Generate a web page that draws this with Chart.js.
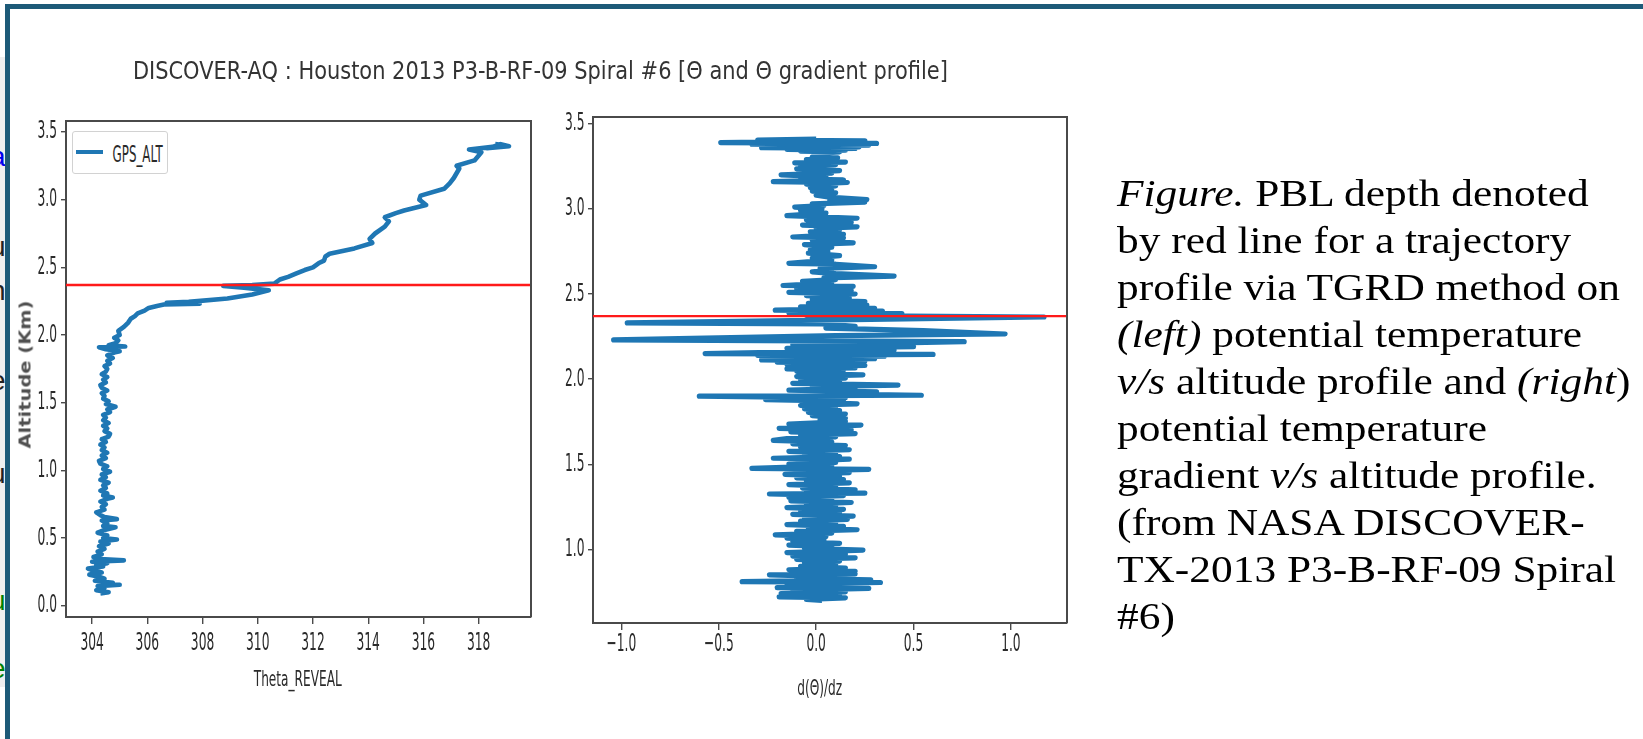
<!DOCTYPE html>
<html>
<head>
<meta charset="utf-8">
<script src="https://cdn.jsdelivr.net/npm/chart.js@4.4.1/dist/chart.umd.min.js"></script>
<style>
html,body{margin:0;padding:0;background:#fff;}
body{width:1643px;height:739px;position:relative;overflow:hidden;}
canvas{position:absolute;left:0;top:0;}
.t{position:absolute;white-space:nowrap;}
#caption{position:absolute;left:1117px;top:170px;font-family:"Liberation Serif","Times New Roman",serif;font-size:38px;line-height:47px;color:#000;white-space:nowrap;transform-origin:0 0;}
#legend{position:absolute;left:72px;top:131px;width:96px;height:43px;border:1px solid #d2d2d2;border-radius:3px;background:#fff;box-sizing:border-box;}
#legline{position:absolute;left:76px;top:150px;width:27px;height:4px;background:#1f77b4;}
.frag{position:absolute;font-family:"Liberation Sans",sans-serif;font-size:28px;line-height:1;}
</style>
</head>
<body>
<div style="position:absolute;left:0;top:57px;width:5px;height:630px;background:#efefef;overflow:hidden;" id="strip"></div>
<div style="position:absolute;left:5px;top:4px;width:1638px;height:5px;background:#1d5a78;"></div>
<div style="position:absolute;left:5px;top:4px;width:5px;height:735px;background:#1d5a78;"></div>

<canvas id="leftChart" width="1643" height="739"></canvas>
<canvas id="rightChart" width="1643" height="739"></canvas>

<div id="legend"></div>
<div id="legline"></div>

<div id="caption">
<div><i>Figure.</i> PBL depth denoted</div>
<div>by red line for a trajectory</div>
<div id="capref">profile via TGRD method on</div>
<div><i>(left)</i> potential temperature</div>
<div><i>v/s</i> altitude profile and <i>(right</i>)</div>
<div>potential temperature</div>
<div>gradient <i>v/s</i> altitude profile.</div>
<div>(from NASA DISCOVER-</div>
<div>TX-2013 P3-B-RF-09 Spiral</div>
<div>#6)</div>
</div>

<script>
// ---------------- DATA ----------------
const chartTitle = 'DISCOVER-AQ : Houston 2013 P3-B-RF-09 Spiral #6 [\u0398 and \u0398 gradient profile]';
const seriesName = 'GPS_ALT';
const leftXTitle = 'Theta_REVEAL';
const leftYTitle = 'Altitude (Km)';
const rightXTitle = 'd(\u0398)/dz';

const pblDepth = 2.37; // km, red line

// Left panel: potential temperature (K) vs altitude (km), [theta, altitude]
const thetaProfile = [
 [304.30,0.09],[304.60,0.10],[304.15,0.115],[304.45,0.13],[304.20,0.145],[305.00,0.155],[304.40,0.16],[304.75,0.17],[304.10,0.185],[304.45,0.20],
 [304.25,0.215],[303.90,0.23],[304.35,0.245],[304.05,0.26],[303.85,0.275],[304.40,0.29],[304.15,0.30],[304.55,0.315],[304.00,0.325],[305.15,0.335],
 [304.30,0.345],[304.05,0.36],[304.35,0.38],[304.20,0.40],[304.45,0.42],[304.25,0.44],[304.60,0.46],[304.30,0.475],[304.90,0.49],[304.40,0.50],
 [304.55,0.52],[304.20,0.54],[304.45,0.56],[304.85,0.58],[304.40,0.59],[304.55,0.61],[304.35,0.63],[304.90,0.64],[304.45,0.655],[304.30,0.67],
 [304.15,0.69],[304.45,0.71],[304.35,0.73],[304.50,0.75],[304.30,0.77],[304.55,0.79],[304.75,0.80],[304.40,0.815],[304.55,0.83],[304.30,0.85],
 [304.50,0.87],[304.40,0.89],[304.60,0.91],[304.30,0.93],[304.50,0.95],[304.35,0.97],[304.65,0.99],[304.40,1.01],[304.55,1.03],[304.30,1.05],
 [304.25,1.07],[304.50,1.09],[304.35,1.11],[304.55,1.13],[304.35,1.15],[304.45,1.17],[304.30,1.19],[304.50,1.21],[304.35,1.23],[304.60,1.25],
 [304.65,1.27],[304.45,1.29],[304.55,1.31],[304.40,1.33],[304.60,1.35],[304.40,1.37],[304.50,1.39],[304.40,1.41],[304.65,1.43],[304.55,1.45],
 [304.85,1.47],[304.50,1.49],[304.60,1.51],[304.40,1.53],[304.45,1.55],[304.35,1.57],[304.55,1.59],[304.35,1.61],[304.30,1.63],[304.50,1.65],
 [304.40,1.67],[304.55,1.69],[304.35,1.71],[304.50,1.73],[304.55,1.75],[304.45,1.77],[304.65,1.79],[304.55,1.81],[304.75,1.83],[304.55,1.85],
 [304.80,1.87],[305.00,1.88],[304.50,1.895],[304.25,1.91],[305.20,1.915],[304.60,1.925],[304.85,1.94],[304.95,1.96],[304.80,1.98],[305.00,2.00],
 [304.95,2.03],[305.15,2.06],[305.30,2.09],[305.40,2.12],[305.55,2.14],[305.65,2.16],[305.90,2.18],[306.05,2.20],[306.35,2.215],[306.60,2.225],
 [307.90,2.232],[306.70,2.238],[307.50,2.245],[308.90,2.27],[309.80,2.30],[310.40,2.33],[309.50,2.35],[308.75,2.363],[309.80,2.37],[310.60,2.38],
 [310.80,2.41],[311.10,2.43],[311.40,2.455],[311.70,2.48],[312.00,2.50],[312.20,2.53],[312.40,2.55],[312.45,2.58],[312.60,2.60],[313.50,2.64],
 [314.15,2.68],[314.05,2.71],[314.25,2.75],[314.60,2.80],[314.75,2.84],[314.60,2.87],[315.00,2.90],[315.30,2.92],[316.10,2.96],[315.85,3.00],
 [315.90,3.03],[316.75,3.08],[316.95,3.12],[317.10,3.16],[317.30,3.23],[317.20,3.25],[317.85,3.29],[318.10,3.35],[317.65,3.37],[318.50,3.39],
 [318.80,3.41],[319.10,3.395],[318.30,3.38],[319.00,3.40],[318.60,3.41]
];

// Right panel: d(theta)/dz vs altitude (km), [gradient, altitude]
const gradientProfile = [
 [0.00,3.41],[-0.30,3.405],[0.25,3.40],[-0.49,3.39],[0.31,3.385],[-0.33,3.38],[0.27,3.375],[-0.25,3.37],[0.22,3.365],[-0.28,3.36],
 [0.20,3.355],[-0.15,3.35],[0.15,3.345],[-0.08,3.34],[0.12,3.335],[0.00,3.325],[0.05,3.315],[-0.02,3.305],[0.11,3.30],[-0.05,3.29],
 [0.15,3.275],[-0.11,3.27],[0.10,3.26],[-0.08,3.25],[0.06,3.24],[-0.10,3.235],[0.12,3.225],[-0.05,3.215],[0.08,3.21],[-0.18,3.20],
 [0.05,3.19],[-0.08,3.18],[0.14,3.17],[-0.22,3.16],[0.16,3.155],[-0.05,3.145],[0.10,3.135],[-0.03,3.125],[0.08,3.115],[-0.02,3.105],
 [0.10,3.095],[0.00,3.08],[0.06,3.07],[0.26,3.055],[0.07,3.05],[0.25,3.04],[-0.02,3.03],[0.04,3.02],[-0.11,3.01],[0.03,3.00],
 [-0.08,2.99],[0.05,2.975],[-0.15,2.96],[0.21,2.945],[-0.05,2.935],[0.18,2.92],[-0.07,2.905],[0.21,2.895],[0.00,2.885],[0.12,2.875],
 [-0.03,2.865],[0.14,2.85],[-0.12,2.835],[0.14,2.83],[-0.02,2.815],[0.19,2.80],[-0.06,2.79],[0.08,2.775],[-0.03,2.76],[0.06,2.75],
 [-0.04,2.74],[0.12,2.725],[-0.02,2.71],[0.08,2.70],[-0.14,2.68],[0.10,2.675],[0.30,2.66],[0.02,2.65],[0.08,2.64],[-0.02,2.63],
 [0.10,2.62],[0.40,2.605],[0.04,2.595],[0.10,2.585],[-0.07,2.575],[0.08,2.565],[-0.17,2.55],[0.19,2.545],[-0.10,2.53],[0.18,2.52],
 [-0.14,2.51],[0.20,2.50],[-0.05,2.49],[0.17,2.475],[-0.02,2.465],[0.25,2.455],[-0.04,2.445],[0.26,2.435],[-0.08,2.425],[0.30,2.415],
 [-0.21,2.405],[0.34,2.40],[-0.14,2.39],[0.44,2.385],[-0.05,2.375],[1.17,2.365],[-0.97,2.33],[0.03,2.325],[0.20,2.31],[0.05,2.30],
 [0.55,2.285],[0.97,2.265],[0.10,2.255],[-1.04,2.23],[0.76,2.22],[0.30,2.21],[-0.12,2.20],[0.50,2.19],[-0.15,2.18],[0.40,2.17],
 [-0.57,2.15],[0.60,2.145],[-0.30,2.14],[0.35,2.135],[-0.25,2.128],[0.30,2.12],[-0.28,2.113],[0.25,2.106],[-0.20,2.10],[0.22,2.093],
 [-0.15,2.086],[0.25,2.08],[-0.12,2.073],[0.20,2.066],[-0.15,2.06],[0.14,2.053],[-0.10,2.046],[0.12,2.04],[-0.08,2.033],[0.24,2.025],
 [-0.10,2.015],[0.15,2.005],[-0.08,1.995],[0.12,1.985],[-0.12,1.975],[0.42,1.965],[-0.02,1.955],[0.20,1.945],[-0.14,1.935],[0.31,1.925],
 [-0.05,1.915],[0.54,1.905],[-0.60,1.90],[0.15,1.89],[-0.26,1.88],[0.14,1.87],[-0.05,1.865],[0.21,1.855],[-0.08,1.845],[0.10,1.835],
 [-0.06,1.825],[0.12,1.815],[-0.04,1.805],[0.15,1.795],[-0.02,1.785],[0.15,1.77],[0.02,1.76],[0.15,1.75],[-0.14,1.735],[0.23,1.73],
 [-0.19,1.71],[0.18,1.70],[-0.13,1.69],[0.20,1.68],[-0.08,1.67],[0.10,1.66],[-0.15,1.65],[-0.22,1.64],[0.08,1.63],[-0.12,1.62],
 [0.15,1.61],[-0.08,1.60],[0.17,1.585],[-0.14,1.575],[0.10,1.565],[-0.06,1.555],[0.12,1.545],[-0.22,1.535],[0.17,1.53],[-0.06,1.52],
 [0.10,1.51],[-0.14,1.50],[0.08,1.49],[-0.33,1.475],[0.27,1.47],[-0.10,1.46],[0.17,1.45],[-0.16,1.44],[0.12,1.43],[-0.10,1.42],
 [0.14,1.41],[-0.05,1.40],[0.17,1.39],[-0.14,1.38],[0.10,1.37],[-0.07,1.36],[0.20,1.35],[-0.05,1.34],[0.25,1.33],[-0.24,1.325],
 [0.14,1.315],[-0.14,1.305],[0.08,1.295],[-0.13,1.285],[0.18,1.275],[-0.05,1.265],[0.10,1.255],[-0.15,1.245],[0.14,1.235],[-0.08,1.225],
 [0.12,1.215],[-0.12,1.205],[0.19,1.195],[-0.06,1.185],[0.16,1.175],[-0.08,1.165],[0.10,1.155],[-0.15,1.145],[0.14,1.135],[-0.04,1.125],
 [0.21,1.115],[-0.10,1.105],[0.08,1.095],[-0.21,1.085],[0.05,1.075],[-0.15,1.065],[0.04,1.055],[-0.12,1.045],[0.12,1.035],[-0.14,1.025],
 [0.08,1.015],[-0.06,1.005],[0.24,0.995],[-0.15,0.98],[0.15,0.97],[-0.12,0.96],[0.20,0.95],[-0.10,0.94],[0.12,0.93],[-0.06,0.92],
 [0.10,0.91],[-0.08,0.90],[0.15,0.89],[-0.14,0.88],[0.20,0.87],[-0.05,0.86],[0.20,0.855],[-0.24,0.85],[0.10,0.84],[-0.10,0.83],
 [0.28,0.82],[-0.38,0.81],[0.33,0.805],[-0.15,0.795],[0.20,0.785],[-0.20,0.775],[0.27,0.77],[-0.12,0.76],[0.15,0.75],[-0.18,0.74],
 [0.12,0.73],[-0.19,0.72],[0.15,0.715],[-0.05,0.705],[0.03,0.70]
];

// Axis limits and ticks
const leftXRange = [303.055, 319.896];
const leftYRange = [-0.083, 3.581];
const rightXRange = [-1.146, 1.288];
const rightYRange = [0.567, 3.540];

const leftXTicks = [304, 306, 308, 310, 312, 314, 316, 318];
const leftXTickLabels = ['304','306','308','310','312','314','316','318'];
const leftYTicks = [0.0, 0.5, 1.0, 1.5, 2.0, 2.5, 3.0, 3.5];
const leftYTickLabels = ['0.0','0.5','1.0','1.5','2.0','2.5','3.0','3.5'];
const rightXTicks = [-1.0, -0.5, 0.0, 0.5, 1.0];
const rightXTickLabels = ['\u22121.0','\u22120.5','0.0','0.5','1.0'];
const rightYTicks = [1.0, 1.5, 2.0, 2.5, 3.0, 3.5];
const rightYTickLabels = ['1.0','1.5','2.0','2.5','3.0','3.5'];

// ---------------- STYLE ----------------
const BLUE = '#1f77b4';
const RED = '#ff1a1a';
const SPINE = '#4a4a4a';
const TEXT = '#2a2a2a';

const mplTicks = {
  id: 'mplTicks',
  afterDraw(chart, args, o) {
    const ctx = chart.ctx, a = chart.chartArea;
    const xs = chart.scales.x, ys = chart.scales.y;
    ctx.save();
    ctx.strokeStyle = SPINE; ctx.lineWidth = 2;
    ctx.beginPath();
    ctx.moveTo(a.left, a.top); ctx.lineTo(a.right, a.top); ctx.lineTo(a.right, a.bottom);
    ctx.stroke();
    ctx.fillStyle = TEXT;
    ctx.font = o.size + 'px "DejaVu Sans"';
    ctx.textBaseline = 'middle';
    xs.ticks.forEach(t => {
      const px = xs.getPixelForValue(t.value);
      ctx.save(); ctx.translate(px, a.bottom + o.xOff); ctx.scale(o.sx, 1);
      ctx.textAlign = 'center'; ctx.fillText(t.label, 0, 0); ctx.restore();
    });
    ys.ticks.forEach(t => {
      const py = ys.getPixelForValue(t.value);
      ctx.save(); ctx.translate(a.left - o.yGap, py); ctx.scale(o.sx, 1);
      ctx.textAlign = 'right'; ctx.fillText(t.label, 0, 0); ctx.restore();
    });
    ctx.restore();
  }
};

function buildChart(id, c) {
  return new Chart(document.getElementById(id), {
    type: 'scatter',
    data: { datasets: c.datasets },
    options: {
      responsive: false, animation: false, devicePixelRatio: 1,
      layout: { padding: { left: 0, top: c.area.top, right: 1643 - c.area.right, bottom: 0 } },
      plugins: { legend: { display: false }, tooltip: { enabled: false },
        mplTicks: { size: 25, sx: 0.49, xOff: c.xOff, yGap: c.yGap } },
      elements: { point: { radius: 0, hoverRadius: 0 } },
      scales: {
        x: {
          type: 'linear', min: c.xRange[0], max: c.xRange[1],
          afterFit(s) { s.height = 739 - c.area.bottom; },
          afterBuildTicks(s) { s.ticks = c.xTicks.map(v => ({ value: v })); },
          ticks: { display: false, callback: (v, i) => c.xLabels[i] },
          grid: { display: true, drawOnChartArea: false, drawTicks: true, tickLength: 7, color: SPINE, lineWidth: 1.4 },
          border: { display: true, color: SPINE, width: 2 }
        },
        y: {
          type: 'linear', min: c.yRange[0], max: c.yRange[1],
          afterFit(s) { s.width = c.area.left; },
          afterBuildTicks(s) { s.ticks = c.yTicks.map(v => ({ value: v })); },
          ticks: { display: false, callback: (v, i) => c.yLabels[i] },
          grid: { display: true, drawOnChartArea: false, drawTicks: true, tickLength: 5, color: SPINE, lineWidth: 1.4 },
          border: { display: true, color: SPINE, width: 2 }
        }
      }
    },
    plugins: [mplTicks]
  });
}

function pts(pairs) { return pairs.map(p => ({ x: p[0], y: p[1] })); }

buildChart('leftChart', {
  area: { left: 66, top: 121, right: 531, bottom: 617 },
  xRange: leftXRange, yRange: leftYRange,
  xTicks: leftXTicks, xLabels: leftXTickLabels, yTicks: leftYTicks, yLabels: leftYTickLabels,
  yGap: 9, xOff: 26,
  datasets: [
    { label: 'PBL', data: [{ x: leftXRange[0], y: pblDepth }, { x: leftXRange[1], y: pblDepth }],
      showLine: true, borderColor: RED, borderWidth: 2.4, order: 0 },
    { label: seriesName, data: pts(thetaProfile), showLine: true, borderColor: BLUE,
      borderWidth: 4.6, borderJoinStyle: 'round', borderCapStyle: 'butt', order: 1 }
  ]
});

buildChart('rightChart', {
  area: { left: 593, top: 117, right: 1067, bottom: 623 },
  xRange: rightXRange, yRange: rightYRange,
  xTicks: rightXTicks, xLabels: rightXTickLabels, yTicks: rightYTicks, yLabels: rightYTickLabels,
  yGap: 8.5, xOff: 21,
  datasets: [
    { label: 'PBL', data: [{ x: rightXRange[0], y: pblDepth }, { x: rightXRange[1], y: pblDepth }],
      showLine: true, borderColor: RED, borderWidth: 2.4, order: 0 },
    { label: 'gradient', data: pts(gradientProfile), showLine: true, borderColor: BLUE,
      borderWidth: 5.2, borderJoinStyle: 'round', borderCapStyle: 'butt', order: 1 }
  ]
});

// ---------------- TEXT ----------------
function addText(txt, o) {
  const d = document.createElement('div');
  d.className = 't'; d.textContent = txt;
  d.style.fontFamily = o.family || '"DejaVu Sans"';
  d.style.fontSize = o.size + 'px';
  d.style.fontWeight = o.weight || 'normal';
  d.style.lineHeight = '1';
  d.style.color = o.color || TEXT;
  document.body.appendChild(d);
  const r = d.getBoundingClientRect();
  const sx = o.width ? o.width / r.width : 1;
  d.style.left = (o.cx - r.width / 2) + 'px';
  d.style.top = (o.cy - r.height / 2) + 'px';
  d.style.transform = (o.rot ? 'rotate(' + o.rot + 'deg) ' : '') + 'scaleX(' + sx + ')';
  return d;
}

addText(chartTitle, { size: 25, cx: 540.5, cy: 70.5, width: 815, color: '#333' });
addText(seriesName, { size: 23, cx: 137.7, cy: 154.5, width: 50 });
addText(leftXTitle, { size: 22, cx: 298, cy: 678.5, width: 88 });
addText(rightXTitle, { size: 22, cx: 820, cy: 688, width: 45 });
addText(leftYTitle, { size: 15, cx: 25.5, cy: 374, width: 148, rot: -90, color: '#505050', weight: 'bold' });

// caption: Liberation Serif, stretched horizontally like the slide
const cap = document.getElementById('caption');
const span = document.createElement('span'); span.textContent = document.getElementById('capref').textContent;
span.style.cssText = 'position:absolute;visibility:hidden;white-space:nowrap;font-size:38px;font-family:"Liberation Serif","Times New Roman",serif;';
document.body.appendChild(span);
cap.style.transform = 'scaleX(' + (503 / span.getBoundingClientRect().width) + ')';
span.remove();

// clipped text fragments at the left slide edge
const strip = document.getElementById('strip');
const frags = [['t','#c00000',18],['a','#0000ee',86],['r','#c00000',113],['u','#222',176],['n','#222',220],
  ['-','#c00000',273],['e','#222',310],['-','#c00000',370],['u','#222',403],['f','#008000',433],['u','#008000',530],['e','#008000',598]];
frags.forEach(f => {
  const s = document.createElement('div'); s.className = 'frag'; s.textContent = f[0];
  s.style.color = f[1]; s.style.top = f[2] + 'px'; s.style.left = '-10px';
  strip.appendChild(s);
});
</script>
</body>
</html>
